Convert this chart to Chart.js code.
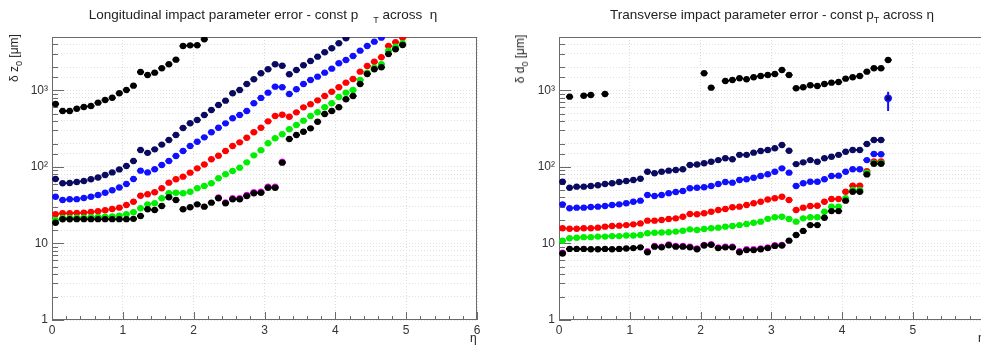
<!DOCTYPE html>
<html>
<head>
<meta charset="UTF-8">
<title>Impact parameter error - const pT across eta</title>
<script src="https://cdn.jsdelivr.net/npm/chart.js"></script>
<style>
  body {
    margin: 0;
    width: 981px;
    height: 347px;
    overflow: hidden;
    position: relative;
    background: #fff;
    font-family: 'Liberation Sans', Arial, sans-serif;
    color: #222;
  }
  .pad { position: absolute; top: 0; height: 347px; }
  #padL { left: 0; width: 490px; }
  #padR { left: 490px; width: 500px; }
  .title {
    position: absolute;
    top: 7px;
    font-size: 13.5px;
    white-space: nowrap;
    transform: translateX(-50%);
  }
  .sub { font-size: 9px; position: relative; top: 4px; }
  .ytitle {
    position: absolute;
    font-size: 12px;
    white-space: nowrap;
    transform: translate(-50%, -50%) rotate(-90deg);
  }
  .xtitle { position: absolute; top: 331px; font-size: 12px; }
</style>
</head>
<body>
  <div id="padL" class="pad"><canvas id="chartL" width="490" height="347"></canvas></div>
  <div id="padR" class="pad"><canvas id="chartR" width="500" height="347"></canvas></div>

  <div class="title" style="left:263px">Longitudinal impact parameter error - const p<span class="sub" style="margin-left:15px">T</span> across&nbsp; η</div>
  <div class="title" style="left:772px">Transverse impact parameter error - const p<span class="sub">T</span> across η</div>
  <div class="ytitle" style="left:14px; top:58px">δ z<span class="sub">0</span> [μm]</div>
  <div class="ytitle" style="left:520px; top:59px">δ d<span class="sub">0</span> [μm]</div>
  <div class="xtitle" style="left:470px">η</div>
  <div class="xtitle" style="left:978px">η</div>

<script>
// eta bin centres (bin width 0.1)
const etaBins = [
  0.05, 0.15, 0.25, 0.35, 0.45, 0.55, 0.65, 0.75, 0.85, 0.95,
  1.05, 1.15, 1.25, 1.35, 1.45, 1.55, 1.65, 1.75, 1.85, 1.95,
  2.05, 2.15, 2.25, 2.35, 2.45, 2.55, 2.65, 2.75, 2.85, 2.95,
  3.05, 3.15, 3.25, 3.35, 3.45, 3.55, 3.65, 3.75, 3.85, 3.95,
  4.05, 4.15, 4.25, 4.35, 4.45, 4.55, 4.65, 4.75, 4.85, 4.95
];
const etaHalfWidth = 0.05;

const yTickValues = [1, 10, 100, 1000];
const yTickLabels = ['1', '10', '10²', '10³'];
const xTickLabels = ['0', '1', '2', '3', '4', '5', '6'];
const xMinorStep = 0.2;

// ---- longitudinal (delta z0) ----
const zTop = [
  667, 540, 540, 578, 609, 627, 693, 751, 805, 919,
  1016, 1156, 1746, 1596, 1710, 1951, 2199, 2528, 3818, 3890,
  3900, 4670, null, null, null, null, null, null, null, null,
  null, null, null, null, null, null, null, null, null, null,
  null, null, null, null, null, null, null, null, null, null
];
const zNavy = [
  69.7, 61.2, 61.7, 63.6, 65.6, 69, 73, 78.5, 85, 93,
  103, 120, 167, 153, 170, 196, 225, 262, 323, 373,
  411, 478, 556, 646, 736, 919, 1016, 1217, 1400, 1679,
  1892, 2199, 2108, 1627, 1853, 2135, 2430, 2767, 3158, 3563,
  4142, 4811, null, null, null, null, null, null, null, null
];
const zBlue = [
  40.9, 37, 37.8, 38, 39.3, 40.9, 43, 46, 49.6, 54,
  60, 69.7, 89.5, 85, 93.3, 106, 120, 139, 162, 188,
  214, 244, 284, 326, 372, 433, 479, 540, 680, 800,
  936, 1122, 1101, 900, 1037, 1216, 1372, 1515, 1710, 1928,
  2265, 2506, 2826, 3315, 3818, 4349, 4900, null, null, null
];
const zRed = [
  24.1, 24.8, 24.8, 25, 25.3, 25.8, 26.4, 27.2, 28.3, 29.4,
  31.9, 35.2, 42, 44, 46.7, 52.7, 62.4, 69, 74.8, 84.3,
  96, 108, 126, 140, 162, 188, 210, 241, 284, 325,
  395, 464, 482, 453, 518, 602, 663, 743, 848, 964,
  1101, 1265, 1413, 1762, 2090, 2378, 2716, 3818, 4268, 4900
];
const zGreen = [
  20.3, 21.6, 21.6, 21.8, 21.8, 22, 22.2, 22.4, 22.6, 23,
  24.1, 25.6, 28.9, 32.5, 33.5, 39, 45.3, 46.1, 45.3, 47.5,
  52.7, 56.5, 61.2, 71.2, 80.3, 88.7, 98, 115, 142, 166,
  204, 237, 268, 311, 354, 403, 464, 519, 603, 680,
  822, 936, 1016, 1372, 1710, 1986, 2199, 3315, 3740, 4142
];
const zBlack = [
  18.7, 20.7, 20.7, 20.8, 20.8, 20.8, 20.8, 20.8, 20.8, 20.8,
  20.8, 21.0, 22.9, 28, 27.4, 30.9, 40.2, 37, 28, 29.7,
  32.5, 30.3, 34.2, 39, 33.5, 37.8, 37.8, 41.8, 45.3, 46.1,
  53.6, 53.6, 114, 232, 262, 289, 320, 391, 493, 540,
  603, 767, 848, 1217, 1643, 1892, 2009, 3000, 3452, 3935
];
const zMagenta = [
  null, null, null, null, null, null, null, null, null, null,
  null, null, null, null, null, null, null, null, null, null,
  null, null, null, 40, 34.5, 39, 39, 43, 46.8, 47.6,
  55.3, 55.3, 117, null, null, null, null, null, null, null,
  null, null, null, null, null, null, null, null, null, null
];

// ---- transverse (delta d0) ----
const dTop = [
  null, 830, null, 855, 873, null, 900, null, null, null,
  null, null, null, null, null, null, null, null, null, null,
  1679, 1088, null, 1331, 1372, 1443, 1400, 1489, 1548, 1596,
  1643, 1853, 1596, 1069, 1101, 1169, 1146, 1217, 1265, 1291,
  1427, 1489, 1548, 1762, 1951, 1951, 2506, null, null, null
];
const dNavy = [
  64.2, 53.6, 55.3, 55.3, 56.5, 57.7, 60, 61.2, 63.6, 65.6,
  67.6, 70.3, 86.8, 82.7, 86.8, 89.5, 91.4, 93.3, 106, 108,
  112, 117, 123, 130, 126, 144, 144, 154, 162, 167,
  176, 194, 163, 109, 115, 123, 117, 130, 136, 144,
  158, 167, 167, 200, 225, 225, null, null, null, null
];
const dBlue = [
  32.5, 28.9, 29.4, 29.4, 30, 30.3, 30.9, 31.9, 32.5, 33.5,
  35.2, 36.3, 43, 41.8, 43, 45.3, 47.1, 48.5, 52.7, 53.6,
  54.3, 56.5, 60, 63.6, 62.4, 67.6, 69, 72.4, 76.3, 80.3,
  86.8, 96, 84.3, 56.5, 61.2, 64.2, 64.2, 69, 76.3, 77,
  86.8, 93.3, 93.3, 123, 148, 147, null, null, null, null
];
const dRed = [
  15.8, 15.6, 15.6, 15.8, 15.8, 16.1, 16.6, 16.9, 17.1, 17.4,
  17.8, 18.3, 19.9, 19.9, 20.3, 20.9, 21.3, 22.4, 24.3, 24.1,
  24.8, 26, 27.4, 28.3, 29.7, 30.3, 31.9, 33.5, 35.2, 37.5,
  39, 40.9, 37, 27.4, 29.4, 30.9, 31.2, 35.2, 38.2, 38.2,
  47.5, 57, 57, 88, 118, 118, null, null, null, null
];
const dGreen = [
  10.9, 11.7, 11.9, 12.1, 12.1, 12.3, 12.3, 12.5, 12.5, 12.7,
  12.7, 12.9, 13.6, 13.8, 13.9, 14, 14.3, 14.7, 15.3, 15,
  15.5, 15.8, 16.1, 16.6, 16.9, 17.4, 18, 18.7, 19.3, 21,
  22, 22.4, 20.9, 19.3, 21.3, 22, 22, 26, 30.3, 30.3,
  39, 50, 50, 84, 113, 113, null, null, null, null
];
const dBlack = [
  7.4, 8.5, 8.5, 8.5, 8.4, 8.4, 8.5, 8.4, 8.5, 8.6,
  8.7, 8.9, 7.7, 9.1, 8.9, 9.5, 9.1, 9.1, 8.9, 8.4,
  9.4, 9.6, 8.7, 8.9, 8.9, 7.7, 8.2, 8.2, 8.4, 8.7,
  9.3, 9.4, 10.9, 12.9, 14.6, 17.4, 17.4, 21.7, 26.5, 26.5,
  36.3, 47.5, 47.5, 80, 110, 110, null, null, null, null
];
const dMagenta = [
  7.6, null, null, null, null, null, null, null, null, null,
  null, null, 7.9, 9.3, 9.1, 9.7, 9.3, 9.3, 9.1, 8.6,
  9.6, 9.8, 8.9, 9.1, 9.1, 7.9, 8.4, 8.4, 8.6, 8.9,
  9.5, 9.6, null, null, null, null, null, null, null, null,
  null, null, null, null, null, null, null, null, null, null
];
// single wide-error point at high eta
const dOutlierEta = [4.65];
const dOutlierVal = [790];
const dOutlierLo = [540];
const dOutlierHi = [960];

const colBlack = '#000000';
const colNavy = '#0a0a60';
const colBlue = '#1010ff';
const colRed = '#ff0000';
const colGreen = '#00ee00';
const colMagenta = '#ff00ff';

function toPoints(vals) {
  const pts = [];
  vals.forEach((v, i) => { if (v !== null) pts.push({ x: etaBins[i], y: v }); });
  return pts;
}

function series(vals, color, order) {
  return {
    data: toPoints(vals),
    backgroundColor: color,
    borderColor: color,
    pointRadius: 3.2,
    pointBorderWidth: 0,
    pointHoverRadius: 3.2,
    xErr: etaHalfWidth,
    order: order
  };
}

// ROOT-like frame, inward ticks and error bars
const rootStyle = {
  id: 'rootStyle',
  beforeDatasetsDraw(chart) {
    const { ctx, chartArea: a, scales: { x, y } } = chart;
    ctx.save();
    ctx.strokeStyle = '#6a6a6a';
    ctx.lineWidth = 1;
    ctx.strokeRect(a.left + 0.5, a.top + 0.5, a.right - a.left - 1, a.bottom - a.top - 1);
    ctx.beginPath();
    const nMinor = Math.round((x.max - x.min) / xMinorStep);
    for (let i = 0; i <= nMinor; i++) {
      const v = x.min + i * xMinorStep;
      const px = Math.round(x.getPixelForValue(v)) + 0.5;
      const len = i % 5 === 0 ? 8 : 4;
      ctx.moveTo(px, a.bottom);
      ctx.lineTo(px, a.bottom - len);
    }
    y.ticks.forEach(t => {
      const py = Math.round(y.getPixelForValue(t.value)) + 0.5;
      const len = yTickValues.includes(t.value) ? 12 : 6;
      ctx.moveTo(a.left, py);
      ctx.lineTo(a.left + len, py);
    });
    ctx.stroke();
    ctx.restore();
  },
  beforeDatasetDraw(chart, args) {
    const ds = chart.data.datasets[args.index];
    const { ctx, chartArea: a, scales: { x, y } } = chart;
    ctx.save();
    ctx.beginPath();
    ctx.rect(a.left, a.top, a.right - a.left, a.bottom - a.top);
    ctx.clip();
    ctx.strokeStyle = ds.borderColor;
    ctx.lineWidth = 2;
    ctx.beginPath();
    ds.data.forEach((p, i) => {
      const py = y.getPixelForValue(p.y);
      if (ds.xErr) {
        ctx.moveTo(x.getPixelForValue(p.x - ds.xErr), py);
        ctx.lineTo(x.getPixelForValue(p.x + ds.xErr), py);
      }
      if (ds.yLo) {
        const px = x.getPixelForValue(p.x);
        ctx.moveTo(px, y.getPixelForValue(ds.yLo[i]));
        ctx.lineTo(px, y.getPixelForValue(ds.yHi[i]));
      }
    });
    ctx.stroke();
    ctx.restore();
  }
};

function makeOptions(yWidth, padRight) {
  return {
    responsive: false,
    animation: false,
    events: [],
    layout: { padding: { left: 0, right: padRight, top: 37, bottom: 0 } },
    plugins: { legend: { display: false }, tooltip: { enabled: false } },
    scales: {
      x: {
        type: 'linear',
        min: 0,
        max: 6,
        afterFit: s => { s.height = 27; },
        grid: { color: '#dcdcdc', drawTicks: false },
        border: { display: false, dash: [1, 2] },
        ticks: {
          stepSize: 1,
          padding: 3,
          maxRotation: 0,
          color: '#333',
          font: { family: "'Liberation Sans', Arial, sans-serif", size: 12 },
          callback: v => xTickLabels[v] ?? ''
        }
      },
      y: {
        type: 'logarithmic',
        min: 1,
        max: 5000,
        afterFit: s => { s.width = yWidth; },
        grid: { color: '#e2e2e2', drawTicks: false },
        border: { display: false, dash: [1, 2] },
        ticks: {
          autoSkip: false,
          padding: 4,
          color: '#333',
          font: { family: "'Liberation Sans', Arial, sans-serif", size: 12 },
          callback: v => {
            const k = yTickValues.indexOf(v);
            return k >= 0 ? yTickLabels[k] : '';
          }
        }
      }
    }
  };
}

new Chart(document.getElementById('chartL'), {
  type: 'scatter',
  data: {
    datasets: [
      series(zTop, colBlack, 7),
      series(zNavy, colNavy, 6),
      series(zBlue, colBlue, 5),
      series(zRed, colRed, 4),
      series(zGreen, colGreen, 3),
      series(zMagenta, colMagenta, 2),
      series(zBlack, colBlack, 1)
    ]
  },
  options: makeOptions(52, 13),
  plugins: [rootStyle]
});

const outlier = {
  data: dOutlierEta.map((e, i) => ({ x: e, y: dOutlierVal[i] })),
  backgroundColor: colNavy,
  borderColor: colBlue,
  pointRadius: 3,
  pointBorderWidth: 1.5,
  yLo: dOutlierLo,
  yHi: dOutlierHi,
  xErr: etaHalfWidth,
  order: 0
};

new Chart(document.getElementById('chartR'), {
  type: 'scatter',
  data: {
    datasets: [
      series(dTop, colBlack, 7),
      series(dNavy, colNavy, 6),
      series(dBlue, colBlue, 5),
      series(dRed, colRed, 4),
      series(dGreen, colGreen, 3),
      series(dMagenta, colMagenta, 2),
      series(dBlack, colBlack, 1),
      outlier
    ]
  },
  options: makeOptions(69, 6),
  plugins: [rootStyle]
});
</script>
</body>
</html>
